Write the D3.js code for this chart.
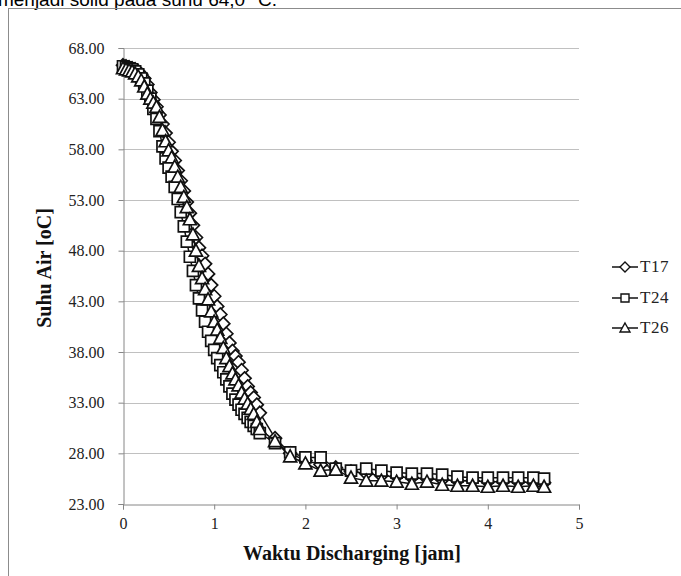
<!DOCTYPE html>
<html>
<head>
<meta charset="utf-8">
<script src="https://cdn.jsdelivr.net/npm/d3@7"></script>
<style>
  body { margin: 0; background: #fff; }
  svg { display: block; }
</style>
</head>
<body>
<div id="chart"></div>
<script>
// time in hours (2 min steps, then 10 min steps)
var timeJam = [0, 0.033, 0.067, 0.1, 0.133, 0.167, 0.2, 0.233, 0.267, 0.3,
  0.333, 0.367, 0.4, 0.433, 0.467, 0.5, 0.533, 0.567, 0.6, 0.633,
  0.667, 0.7, 0.733, 0.767, 0.8, 0.833, 0.867, 0.9, 0.933, 0.967,
  1.0, 1.033, 1.067, 1.1, 1.133, 1.167, 1.2, 1.233, 1.267, 1.3,
  1.333, 1.367, 1.4, 1.433, 1.467, 1.5, 1.667, 1.833, 2.0, 2.167,
  2.333, 2.5, 2.667, 2.833, 3.0, 3.167, 3.333, 3.5, 3.667, 3.833,
  4.0, 4.167, 4.333, 4.5, 4.617];

var t17 = [66.3, 66.2, 66.1, 66.0, 65.9, 65.7, 65.4, 65.0, 64.4, 63.6,
  62.9, 62.2, 61.4, 60.5, 59.6, 58.7, 57.8, 56.9, 55.9, 54.9,
  53.9, 52.8, 51.7, 50.5, 49.3, 48.3, 47.5, 46.7, 45.7, 44.6,
  43.5, 42.5, 41.7, 40.8, 39.8, 38.9, 38.1, 37.6, 37.0, 36.2,
  35.4, 34.6, 34.0, 33.5, 32.8, 32.0, 29.5, 28.0, 27.3, 26.9,
  26.6, 26.2, 26.0, 25.8, 25.7, 25.6, 25.5, 25.4, 25.3, 25.3,
  25.2, 25.2, 25.2, 25.1, 25.1];

var t24 = [66.2, 66.1, 66.0, 65.9, 65.7, 65.4, 65.0, 64.5, 63.8, 63.0,
  62.0, 61.0, 59.8, 58.3, 57.1, 56.2, 55.3, 54.3, 53.1, 51.8,
  50.4, 48.9, 47.4, 46.0, 44.6, 43.3, 42.1, 41.0, 40.0, 39.1,
  38.2, 37.4, 36.7, 36.0, 35.3, 34.6, 33.9, 33.3, 32.8, 32.3,
  31.9, 31.5, 31.1, 30.7, 30.4, 30.0, 29.0, 28.1, 27.6, 27.6,
  26.5, 26.3, 26.5, 26.3, 26.1, 26.0, 26.0, 25.9, 25.7, 25.6,
  25.6, 25.6, 25.6, 25.6, 25.5];

var t26 = [66.0, 65.9, 65.8, 65.7, 65.5, 65.2, 64.8, 64.2, 63.5, 63.0,
  62.6, 62.2, 61.2, 59.9, 58.8, 57.9, 57.2, 56.3, 55.3, 54.3,
  53.3, 52.3, 51.1, 49.6, 48.0, 46.5, 45.3, 44.2, 43.2, 42.0,
  41.0, 40.2, 39.4, 38.4, 37.4, 36.6, 35.9, 35.3, 34.7, 34.0,
  33.4, 32.9, 32.4, 31.9, 31.1, 30.4, 29.2, 27.7, 27.0, 26.3,
  26.4, 25.6, 25.3, 25.3, 25.2, 25.0, 25.2, 24.9, 24.8, 24.8,
  24.7, 24.8, 24.7, 24.8, 24.7];

var seriesNames = ["T17", "T24", "T26"];
var seriesValues = [t17, t24, t26];
var markerShapes = ["diamond", "square", "triangle"];

var yTicks = [23, 28, 33, 38, 43, 48, 53, 58, 63, 68];
var xTicks = [0, 1, 2, 3, 4, 5];

var width = 681, height = 576;
var plot = { left: 123, right: 579, top: 48, bottom: 504 };

var serif = "'Liberation Serif', 'Times New Roman', serif";
var sans = "'Liberation Sans', Arial, sans-serif";

var svg = d3.select("#chart").append("svg")
  .attr("width", width)
  .attr("height", height);

// clipped caption line from the page above
svg.append("text")
  .attr("x", 277)
  .attr("y", 6)
  .attr("text-anchor", "end")
  .attr("font-family", sans)
  .attr("font-size", "19px")
  .attr("fill", "#000")
  .text("menjadi solid pada suhu  64,0 °C.");

// chart frame
svg.append("rect")
  .attr("x", 8.5).attr("y", 8.5)
  .attr("width", 720).attr("height", 620)
  .attr("fill", "none")
  .attr("stroke", "#8c8c8c")
  .attr("stroke-width", 1);

var x = d3.scaleLinear().domain([0, 5]).range([plot.left, plot.right]);
var y = d3.scaleLinear().domain([23, 68]).range([plot.bottom, plot.top]);

// gridlines
svg.append("g")
  .selectAll("line")
  .data(yTicks.slice(1))
  .enter().append("line")
  .attr("x1", plot.left).attr("x2", plot.right)
  .attr("y1", function(d) { return Math.round(y(d)) + 0.5; })
  .attr("y2", function(d) { return Math.round(y(d)) + 0.5; })
  .attr("stroke", "#c0c0c0")
  .attr("stroke-width", 1);

// y axis
var yAxis = svg.append("g")
  .attr("transform", "translate(" + (plot.left + 0.5) + ",0)")
  .call(d3.axisLeft(y).tickValues(yTicks).tickSize(5).tickPadding(14)
    .tickFormat(function(d) { return d.toFixed(2); }));
yAxis.attr("font-family", serif).attr("font-size", 16);
yAxis.select(".domain").attr("stroke", "#868686");
yAxis.selectAll(".tick line").attr("stroke", "#868686");
yAxis.selectAll("text").attr("fill", "#222");

// x axis
var xAxis = svg.append("g")
  .attr("transform", "translate(0," + (plot.bottom + 0.5) + ")")
  .call(d3.axisBottom(x).tickValues(xTicks).tickSize(5).tickPadding(8)
    .tickFormat(d3.format("d")));
xAxis.attr("font-family", serif).attr("font-size", 16);
xAxis.select(".domain").attr("stroke", "#868686");
xAxis.selectAll(".tick line").attr("stroke", "#868686");
xAxis.selectAll("text").attr("fill", "#222");

// axis titles
svg.append("text")
  .attr("x", 352).attr("y", 560)
  .attr("text-anchor", "middle")
  .attr("font-family", serif)
  .attr("font-weight", "bold")
  .attr("font-size", "20px")
  .attr("fill", "#111")
  .text("Waktu  Discharging [jam]");

svg.append("text")
  .attr("transform", "translate(51,268) rotate(-90)")
  .attr("text-anchor", "middle")
  .attr("font-family", serif)
  .attr("font-weight", "bold")
  .attr("font-size", "20px")
  .attr("fill", "#111")
  .text("Suhu Air [oC]");

function markerPath(shape, s) {
  var h = s / 2;
  if (shape === "square") return "M" + (-h) + "," + (-h) + "H" + h + "V" + h + "H" + (-h) + "Z";
  if (shape === "diamond") return "M0," + (-h - 1) + "L" + (h + 1) + ",0L0," + (h + 1) + "L" + (-h - 1) + ",0Z";
  return "M0," + (-h - 1) + "L" + (h + 1) + "," + (h) + "L" + (-h - 1) + "," + (h) + "Z";
}

var line = d3.line()
  .x(function(d) { return x(d[0]); })
  .y(function(d) { return y(d[1]); });

seriesValues.forEach(function(vals, i) {
  var pts = timeJam.map(function(t, k) { return [t, vals[k]]; });
  var g = svg.append("g");
  g.append("path")
    .datum(pts)
    .attr("d", line)
    .attr("fill", "none")
    .attr("stroke", "#111")
    .attr("stroke-width", 1.5);
  g.selectAll("path.m")
    .data(pts)
    .enter().append("path")
    .attr("class", "m")
    .attr("transform", function(d) { return "translate(" + x(d[0]) + "," + y(d[1]) + ")"; })
    .attr("d", markerPath(markerShapes[i], 11))
    .attr("fill", "#fff")
    .attr("stroke", "#111")
    .attr("stroke-width", 1.7);
});

// legend
var legendY = [267, 298, 328];
var legend = svg.append("g");
seriesNames.forEach(function(name, i) {
  var ly = legendY[i];
  legend.append("line")
    .attr("x1", 612).attr("x2", 638)
    .attr("y1", ly).attr("y2", ly)
    .attr("stroke", "#111").attr("stroke-width", 1.5);
  legend.append("path")
    .attr("transform", "translate(625," + ly + ")")
    .attr("d", markerPath(markerShapes[i], 8))
    .attr("fill", "#fff").attr("stroke", "#111").attr("stroke-width", 1.4);
  legend.append("text")
    .attr("x", 640).attr("y", ly + 5)
    .attr("font-family", serif)
    .attr("font-size", "17px")
    .attr("letter-spacing", "0.5px")
    .attr("fill", "#222")
    .text(name);
});
</script>
</body>
</html>
